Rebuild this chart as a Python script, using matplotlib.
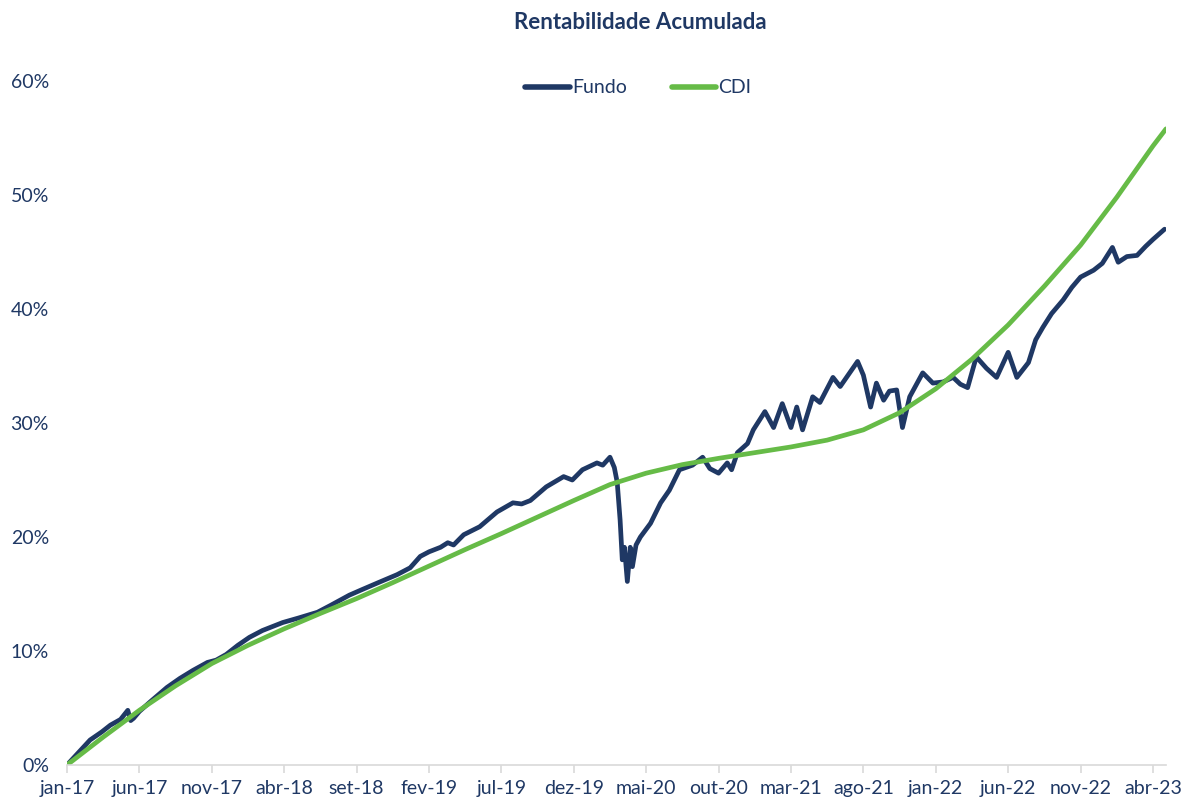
import matplotlib
matplotlib.use('Agg')
import matplotlib.pyplot as plt

# Accumulated return (%), x in months since jan-17
fundo_mes = [0.0, 0.8, 1.6, 2.4, 3.0, 3.7, 4.2, 4.4, 4.6, 5.0, 5.8, 6.9, 7.8, 8.7, 9.7, 10.3,
             11.0, 11.8, 12.6, 13.5, 14.9, 16.0, 17.3, 18.2, 19.5, 20.4, 21.5, 22.8, 23.7, 24.4,
             25.0, 25.8, 26.3, 26.7, 27.4, 28.5, 29.7, 30.8, 31.4, 32.0, 33.1, 34.3, 34.9, 35.6,
             36.6, 37.0, 37.5, 37.8, 38.0, 38.2, 38.35, 38.5, 38.7, 38.9, 39.05, 39.3, 39.6, 40.3,
             41.0, 41.6, 42.3, 43.2, 43.9, 44.4, 45.0, 45.6, 45.9, 46.3, 47.0, 47.4, 48.2, 48.8,
             49.4, 50.0, 50.4, 50.8, 51.5, 52.0, 52.9, 53.4, 54.0, 54.6, 55.0, 55.5, 55.9, 56.4,
             56.8, 57.3, 57.7, 58.2, 59.1, 59.8, 60.5, 61.2, 61.7, 62.2, 62.8, 63.5, 64.2, 65.0,
             65.6, 66.4, 66.9, 67.4, 68.0, 68.8, 69.4, 70.0, 70.9, 71.5, 72.2, 72.6, 73.2, 73.9,
             74.5, 75.0, 75.8]
fundo_pct = [0.0, 1.1, 2.2, 2.9, 3.5, 4.0, 4.8, 3.9, 4.1, 4.7, 5.6, 6.8, 7.6, 8.3, 9.0, 9.2,
             9.7, 10.5, 11.2, 11.8, 12.5, 12.9, 13.4, 14.0, 14.9, 15.4, 16.0, 16.7, 17.3, 18.3,
             18.7, 19.1, 19.5, 19.3, 20.2, 20.9, 22.2, 23.0, 22.9, 23.2, 24.4, 25.3, 25.0, 25.9,
             26.5, 26.3, 27.0, 26.1, 24.8, 21.5, 18.0, 19.1, 16.1, 19.1, 17.4, 19.3, 20.0, 21.2,
             23.0, 24.1, 25.9, 26.3, 27.0, 26.0, 25.6, 26.5, 25.9, 27.4, 28.2, 29.4, 31.0, 29.6,
             31.7, 29.6, 31.4, 29.4, 32.3, 31.8, 34.0, 33.2, 34.3, 35.4, 34.2, 31.4, 33.5, 32.0,
             32.8, 32.9, 29.6, 32.3, 34.4, 33.5, 33.6, 34.0, 33.4, 33.1, 35.8, 34.8, 34.0, 36.2,
             34.0, 35.3, 37.3, 38.4, 39.6, 40.8, 41.9, 42.8, 43.4, 44.0, 45.4, 44.1, 44.6, 44.7,
             45.5, 46.1, 47.0]

cdi_mes = [0, 2.5, 5, 7.5, 10, 12.5, 15, 17.5, 20, 22.5, 25, 27.5, 30, 32.5, 35, 37.5, 40,
           42.5, 45, 47.5, 50, 52.5, 55, 57.5, 60, 62.5, 65, 67.5, 70, 72.5, 75, 75.9]
cdi_pct = [0, 2.45, 4.8, 6.95, 8.9, 10.5, 11.95, 13.3, 14.6, 16.0, 17.45, 18.9, 20.3, 21.75,
           23.2, 24.6, 25.6, 26.35, 26.9, 27.4, 27.9, 28.5, 29.4, 30.9, 33.0, 35.6, 38.6, 42.0,
           45.6, 49.8, 54.3, 55.8]

tick_mes = [0, 5, 10, 15, 20, 25, 30, 35, 40, 45, 50, 55, 60, 65, 70, 75]
tick_labels = ['jan-17', 'jun-17', 'nov-17', 'abr-18', 'set-18', 'fev-19', 'jul-19', 'dez-19',
               'mai-20', 'out-20', 'mar-21', 'ago-21', 'jan-22', 'jun-22', 'nov-22', 'abr-23']

navy = '#1F3864'
green = '#66BB47'
plt.rcParams['font.family'] = ['Lato', 'DejaVu Sans']

fig = plt.figure(figsize=(11.81, 8.01), dpi=100)
ax = fig.add_axes([0.0567, 0.0449, 0.9306, 0.854])

ax.plot(fundo_mes, fundo_pct, color=navy, lw=3.4, label='Fundo', solid_capstyle='round',
        solid_joinstyle='round')
ax.plot(cdi_mes, cdi_pct, color=green, lw=3.4, label='CDI', solid_capstyle='round')

ax.set_xlim(0, 75.9)
ax.set_ylim(0, 60)
ax.set_yticks(range(0, 61, 10))
ax.set_yticklabels([f'{v}%' for v in range(0, 61, 10)])
ax.set_xticks(tick_mes)
ax.set_xticklabels(tick_labels)

for s in ['top', 'right', 'left']:
    ax.spines[s].set_visible(False)
ax.spines['bottom'].set_color('#D9D9D9')
ax.spines['bottom'].set_linewidth(1.2)
ax.tick_params(axis='y', length=0, pad=13, labelsize=14, labelcolor=navy)
ax.tick_params(axis='x', length=6, width=1.2, color='#D9D9D9', pad=5, labelsize=14,
               labelcolor=navy)

fig.text(0.542, 0.972, 'Rentabilidade Acumulada', ha='center', va='center',
         fontsize=16, fontweight='bold', color=navy)

leg = ax.legend(loc='center', bbox_to_anchor=(0.52, 0.99), ncol=2, frameon=False,
                fontsize=14, handlelength=2.3, handletextpad=0.1, columnspacing=2.3)
for t in leg.get_texts():
    t.set_color(navy)
for h in leg.get_lines():
    h.set_linewidth(4)

fig.savefig('out.png', dpi=100)
